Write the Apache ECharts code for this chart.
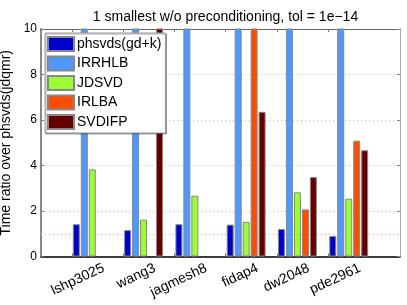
<!DOCTYPE html>
<html><head><meta charset="utf-8">
<script src="https://cdn.jsdelivr.net/npm/echarts@6/dist/echarts.min.js"></script>
<style>html,body{margin:0;padding:0;background:#fff}#c{width:407px;height:305px}</style>
</head><body><div id="c"></div>
<script>
var categories = ['lshp3025', 'wang3', 'jagmesh8', 'fidap4', 'dw2048', 'pde2961'];
var seriesNames = ['phsvds(gd+k)', 'IRRHLB', 'JDSVD', 'IRLBA', 'SVDIFP'];
var phsvdsGdk = [1.42, 1.16, 1.42, 1.40, 1.21, 0.90];
var irrhlb = [14, 14, 14, 14, 14, 14];
var jdsvd = [3.83, 1.62, 2.67, 1.52, 2.82, 2.54];
var irlba = [null, null, null, 14, 2.07, 5.09];
var svdifp = [null, 14, null, 6.36, 3.49, 4.67];
var yTicks = [0, 2, 4, 6, 8, 10];
var colors = ['#0000cc', '#4d99ff', '#99ff33', '#ff4d00', '#660000'];
var FONT = 'Liberation Sans, Arial, sans-serif';

var allValues = [phsvdsGdk, irrhlb, jdsvd, irlba, svdifp];
var LABEL_SHIFT = 1.22;
var tickPos = categories.map(function (c, i) { return i + 0.6; });
var labelPos = categories.map(function (c, i) { return i + LABEL_SHIFT; });

var chart = echarts.init(document.getElementById('c'), null, {renderer: 'canvas'});
var series = seriesNames.map(function (name, k) {
  var s = {
    name: name, type: 'bar', barWidth: 7, barGap: '14%',
    itemStyle: {color: colors[k], borderColor: '#888', borderWidth: 1},
    data: categories.map(function (c, i) { return [i + 1, allValues[k][i] == null ? '-' : allValues[k][i]]; }),
    clip: true
  };
  if (k === 0) {
    s.markLine = {
      silent: true, symbol: 'none', z: 1, animation: false,
      label: {show: false},
      lineStyle: {color: '#ff8888', type: [1, 3], width: 1},
      data: [{yAxis: 1}]
    };
  }
  return s;
});

chart.setOption({
  animation: false,
  textStyle: {fontFamily: FONT},
  title: {
    text: '1 smallest w/o preconditioning, tol = 1e\u221214',
    left: 220.5, textAlign: 'center', top: 5,
    textStyle: {fontSize: 14, fontWeight: 'normal', color: '#000', fontFamily: FONT}
  },
  legend: {
    orient: 'vertical', left: 45, top: 33,
    backgroundColor: '#fff', borderColor: '#999', borderWidth: 1,
    shadowColor: 'rgba(0,0,0,0.35)', shadowOffsetX: 1, shadowOffsetY: 1,
    padding: [3, 4, 3, 2],
    itemWidth: 26, itemHeight: 14, itemGap: 3.5,
    icon: 'rect',
    textStyle: {fontSize: 14, lineHeight: 14, color: '#000', fontFamily: FONT, padding: [0, 0, 0, -2]},
    data: seriesNames
  },
  grid: {left: 41, right: 7, top: 29, bottom: 48.5, containLabel: false, outerBoundsMode: 'none'},
  xAxis: [{
    type: 'value', min: 0, max: 7, interval: 1, position: 'bottom',
    axisLine: {show: true, onZero: false, lineStyle: {color: '#000', width: 1.5}},
    axisTick: {show: true, inside: true, length: 3, customValues: tickPos, lineStyle: {color: '#777'}},
    axisLabel: {
      show: true, customValues: labelPos, rotate: 25, margin: 11,
      fontSize: 14, color: '#000', fontFamily: FONT, hideOverlap: false,
      formatter: function (v) { return categories[Math.round(v - LABEL_SHIFT)]; }
    },
    splitLine: {show: false}
  }, {
    type: 'value', min: 0, max: 7, interval: 1, position: 'top',
    axisLine: {show: true, onZero: false, lineStyle: {color: '#666', width: 1}},
    axisTick: {show: true, inside: true, length: 3, customValues: tickPos, lineStyle: {color: '#777'}},
    axisLabel: {show: false}, splitLine: {show: false}
  }],
  yAxis: [{
    type: 'value', min: 0, max: 10, interval: 2, position: 'left',
    name: 'Time ratio over phsvds(jdqmr)', nameLocation: 'middle', nameGap: 19,
    nameTextStyle: {fontSize: 14, color: '#000', fontFamily: FONT},
    axisLine: {show: true, onZero: false, lineStyle: {color: '#888', width: 2}},
    axisTick: {show: true, inside: true, length: 3, lineStyle: {color: '#777'}},
    axisLabel: {fontSize: 12, color: '#000', margin: 4, fontFamily: FONT,
      customValues: yTicks},
    splitLine: {show: true, lineStyle: {color: '#bbb', type: [1, 3], width: 1}}
  }, {
    type: 'value', min: 0, max: 10, interval: 2, position: 'right',
    axisLine: {show: true, onZero: false, lineStyle: {color: '#aaa', width: 1}},
    axisTick: {show: true, inside: true, length: 3, lineStyle: {color: '#888'}},
    axisLabel: {show: false}, splitLine: {show: false}
  }],
  series: series
});
</script>
</body></html>
